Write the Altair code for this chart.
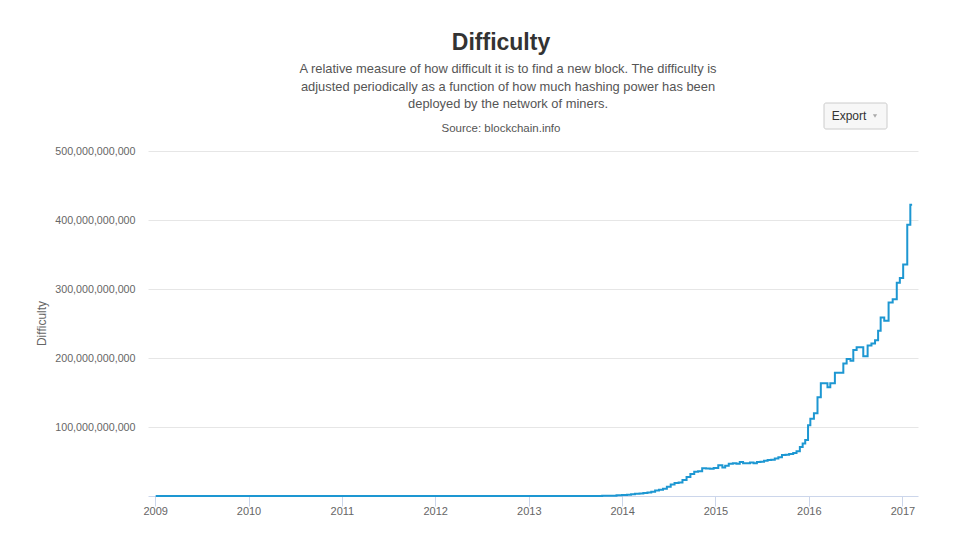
import altair as alt
import pandas as pd

FONT = "Liberation Sans"

# ---- data (difficulty in billions, step changes) ----
dates = [
    "2009-01-03", "2009-12-30", "2010-06-01", "2010-12-01", "2011-06-01", "2011-12-01",
    "2012-06-01", "2012-12-01", "2013-06-01", "2013-09-01", "2013-10-15", "2013-11-15",
    "2013-12-10",
    "2014-01-01", "2014-01-20", "2014-02-05", "2014-02-20", "2014-03-10", "2014-03-25",
    "2014-04-10", "2014-04-25", "2014-05-10", "2014-05-25", "2014-06-10", "2014-06-25",
    "2014-07-10", "2014-07-25", "2014-08-10", "2014-08-25", "2014-09-10", "2014-09-25",
    "2014-10-10", "2014-10-25", "2014-11-10", "2014-11-25", "2014-12-10", "2014-12-25",
    "2015-01-12", "2015-01-28", "2015-02-08", "2015-02-22", "2015-03-10", "2015-03-24",
    "2015-04-06", "2015-04-19", "2015-05-02", "2015-05-16", "2015-05-30", "2015-06-12",
    "2015-06-26", "2015-07-10", "2015-07-24", "2015-08-07", "2015-08-21", "2015-09-04",
    "2015-09-18", "2015-10-02", "2015-10-16", "2015-11-01", "2015-11-14", "2015-11-27",
    "2015-12-08", "2015-12-18", "2015-12-29",
    "2016-01-07", "2016-01-21", "2016-02-04", "2016-02-17", "2016-03-14", "2016-03-25",
    "2016-04-12", "2016-05-15", "2016-05-28", "2016-06-12", "2016-06-23", "2016-07-06",
    "2016-08-01", "2016-08-18", "2016-09-02", "2016-09-16", "2016-09-28", "2016-10-08",
    "2016-10-22", "2016-11-08", "2016-11-24", "2016-12-10", "2016-12-22",
    "2017-01-04", "2017-01-20", "2017-02-01", "2017-02-08",
]
difficulty_bn = [
    0.000000001, 0.000001, 0.00002, 0.000012, 0.0015, 0.0011,
    0.0017, 0.0034, 0.015, 0.11, 0.27, 0.51,
    0.91,
    1.4, 1.8, 2.6, 3.1, 3.8, 4.3,
    5.0, 6.1, 8.0, 8.9, 10.5, 13.5,
    16.8, 18.7, 19.7, 23.1, 27.4, 32.0,
    35.0, 35.9, 40.3, 40.0, 39.6, 40.6,
    44.4, 41.3, 43.9, 46.7, 47.4, 46.7,
    49.4, 47.6, 47.4, 48.5, 47.6, 49.4,
    49.7, 51.1, 52.3, 52.7, 54.3, 56.0,
    59.3, 59.8, 60.9, 62.3, 65.0, 71.0,
    76.0, 81.0, 102.5,
    112.0, 120.0, 143.0, 163.5, 157.7, 163.5,
    178.5, 192.0, 198.7, 196.0, 211.7, 215.5,
    202.5, 218.0, 221.0, 225.8, 239.5, 258.7,
    254.0, 280.5, 285.0, 309.0, 316.0,
    335.6, 393.0, 422.0, 422.0,
]

years = list(range(2009, 2018))
y_ticks = [100e9, 200e9, 300e9, 400e9, 500e9]

title_text = "Difficulty"
subtitle_lines = [
    "A relative measure of how difficult it is to find a new block. The difficulty is",
    "adjusted periodically as a function of how much hashing power has been",
    "deployed by the network of miners.",
]
source_text = "Source: blockchain.info"
button_text = "Export"

df = pd.DataFrame({"date": dates, "difficulty": [v * 1e9 for v in difficulty_bn]})

line = alt.Chart(df).mark_line(
    interpolate="step-after", color="#1d97d2", strokeWidth=2
).encode(
    x=alt.X(
        "date:T",
        scale=alt.Scale(domain=[alt.DateTime(year=2008, month=12, date=4),
                                alt.DateTime(year=2017, month=3, date=3)]),
        axis=alt.Axis(
            values=[alt.DateTime(year=y, month=1, date=1) for y in years],
            format="%Y", grid=False, title=None,
            domainColor="#ccd6eb", tickColor="#ccd6eb", tickSize=10,
            labelPadding=-1, labelColor="#666666", labelFontSize=11, labelFont=FONT,
        ),
    ),
    y=alt.Y(
        "difficulty:Q",
        scale=alt.Scale(domain=[0, 500e9]),
        axis=alt.Axis(
            values=y_ticks, format=",d", domain=False, ticks=False,
            gridColor="#e6e6e6", labelColor="#666666", labelFontSize=10.7,
            labelFont=FONT, labelPadding=13,
            title="Difficulty", titleColor="#666666", titleFontSize=12,
            titleFont=FONT, titleFontWeight="normal", titleX=-107, titleY=172,
            titleAngle=270, titleAlign="center", titleBaseline="middle",
        ),
    ),
)

one = pd.DataFrame({"k": [0]})


def label(txt, x, y, size, color, weight="normal"):
    return alt.Chart(one).mark_text(
        text=txt, font=FONT, fontSize=size, fontWeight=weight, color=color,
        align="center", baseline="middle",
    ).encode(x=alt.value(x), y=alt.value(y))


layers = [line, label(title_text, 353, -108, 23, "#333333", "bold")]
for i, s in enumerate(subtitle_lines):
    layers.append(label(s, 360, -82 + i * 17.5, 12.9, "#555555"))
layers.append(label(source_text, 353, -22, 11.5, "#555555"))

button = alt.Chart(one).mark_rect(
    fill="#f7f7f7", stroke="#cccccc", strokeWidth=1, cornerRadius=2
).encode(x=alt.value(676), x2=alt.value(739), y=alt.value(-48), y2=alt.value(-22))
layers.append(button)
layers.append(label(button_text, 701, -35, 12, "#333333"))
arrow = alt.Chart(one).mark_point(
    shape="triangle-down", filled=True, size=18, color="#aaaaaa", opacity=1
).encode(x=alt.value(727), y=alt.value(-35))
layers.append(arrow)

chart = alt.layer(*layers).properties(
    width=770, height=345,
    autosize=alt.AutoSizeParams(type="none"),
    padding={"left": 140, "top": 143, "right": 31, "bottom": 29},
).configure_view(stroke=None)

chart.save("out.html", embed_options={"renderer": "svg", "actions": False})
